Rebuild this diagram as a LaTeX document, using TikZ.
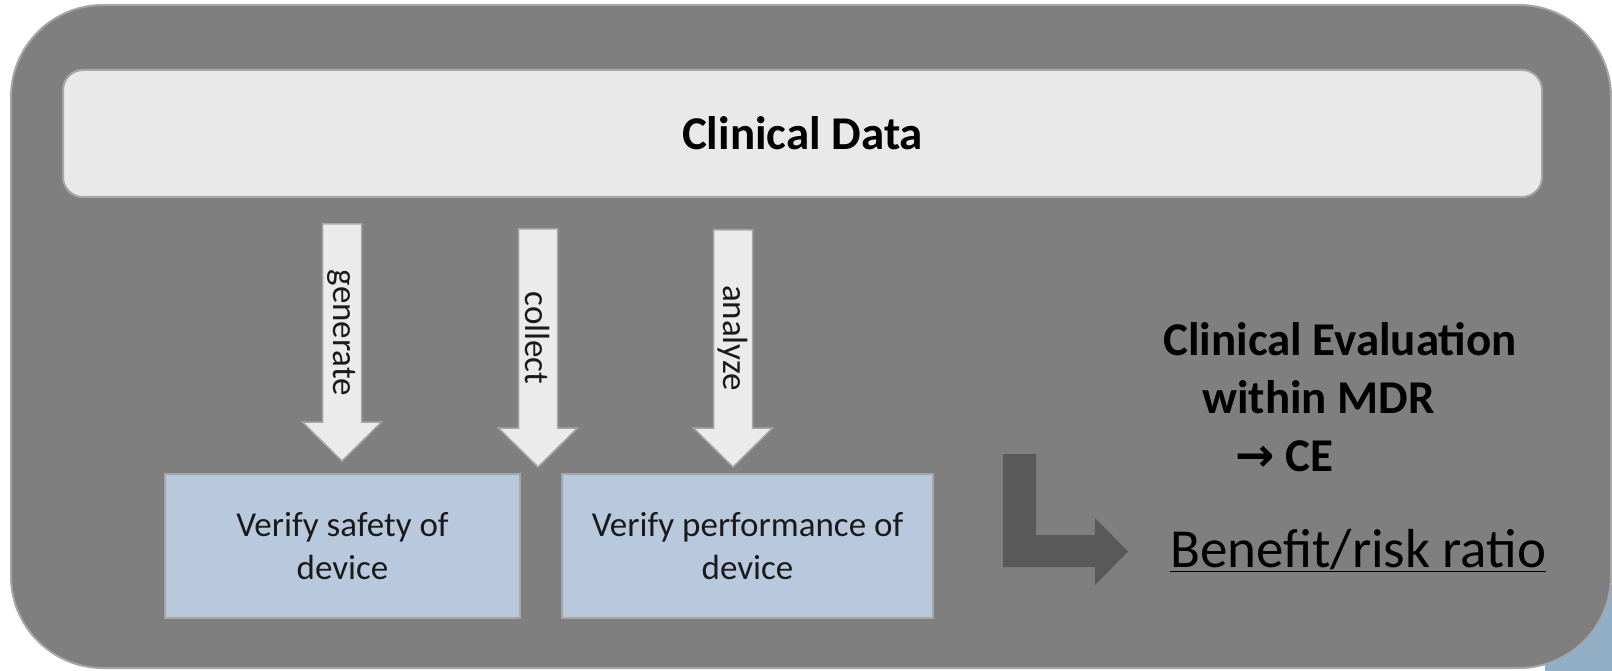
\documentclass[tikz,border=0pt]{standalone}
\usepackage{fontspec}
\setmainfont{Carlito}
\newfontfamily\symfont{DejaVu Sans}
\definecolor{outergray}{HTML}{7F7F7F}
\definecolor{edgegray}{HTML}{A6A6A6}
\definecolor{datafill}{HTML}{E9E9E9}
\definecolor{arrowfill}{HTML}{EBEBEB}
\definecolor{devicefill}{HTML}{B9C9DD}
\definecolor{elbowgray}{HTML}{595959}
\definecolor{backblue}{HTML}{93AFC5}
\definecolor{textdark}{HTML}{1A1A1A}

\begin{document}
\begin{tikzpicture}[x=1pt, y=-1pt,
    dataarrow/.style={draw=edgegray, line width=1.5pt, fill=arrowfill, line join=miter},
    arrowlabel/.style={rotate=-90, inner sep=0pt, font=\fontsize{35}{42}\selectfont, text=textdark},
    devicebox/.style={draw=edgegray, line width=2pt, fill=devicefill, minimum height=144pt, align=center, font=\fontsize{35}{43}\selectfont, text=textdark}]
    \useasboundingbox (0,0) rectangle (1612,671);
    \fill[backblue] (1545,585) rectangle (1612,671);
    \draw[draw=edgegray, line width=2pt, fill=outergray, rounded corners=92pt] (11,5) rectangle (1611,668);
    \node[draw=edgegray, line width=2pt, fill=datafill, rounded corners=20pt, minimum width=1479pt, minimum height=127pt, font=\fontsize{47}{56}\selectfont\bfseries] (data) at (802.5,133.5) {Clinical Data};
    % block arrows with their labels
    \foreach \x/\top/\tip/\mid/\lbl in {342/224/461/333/generate, 538/229/467/338/collect, 733/230/467/338/analyze}
    {
        \draw[dataarrow] (\x-19.5,\top) -- (\x+19.5,\top) -- (\x+19.5,\tip-39) -- (\x+39.5,\tip-39) -- (\x,\tip) -- (\x-39.5,\tip-39) -- (\x-19.5,\tip-39) -- cycle;
        \node[arrowlabel] (\lbl) at (\x,\mid) {\lbl};
    }
    \node[devicebox, minimum width=355pt] (safety) at (342.5,546) {Verify safety of\\device};
    \node[devicebox, minimum width=371pt] (performance) at (747.5,546) {Verify performance of\\device};
    % elbow arrow
    \fill[elbowgray] (1003,454) -- (1036,454) -- (1036,535) -- (1095,535) -- (1095,518) -- (1128,551.5) -- (1095,585) -- (1095,567) -- (1003,567) -- cycle;
    \node[anchor=north west, inner sep=0pt, align=left, font=\fontsize{47}{58}\selectfont\bfseries] (ce) at (1163,322) {Clinical Evaluation\\\hspace*{39pt}within MDR\\\hspace*{72pt}{\symfont →} CE};
    \node[anchor=base west, inner sep=0pt, font=\fontsize{55}{66}\selectfont] (ratio) at (1170,567) {\underline{Benefit/risk ratio}};
\end{tikzpicture}
\end{document}
